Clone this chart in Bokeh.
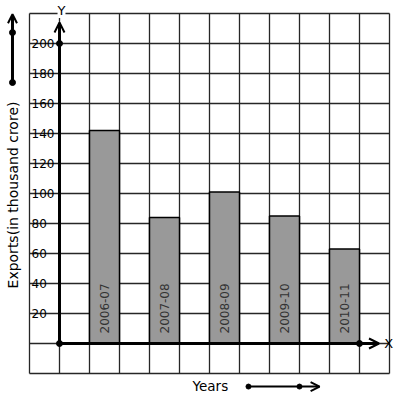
import numpy as np
from bokeh.plotting import figure
from bokeh.models import Range1d, Arrow, OpenHead, Label, ColumnDataSource
from bokeh.core.properties import value
from bokeh.embed import file_html
from bokeh.resources import INLINE

# ---- data ----
years = ["2006-07", "2007-08", "2008-09", "2009-10", "2010-11"]
exports = [142, 84, 101, 85, 63]
y_ticks = [20, 40, 60, 80, 100, 120, 140, 160, 180, 200]
y_tick_labels = ["20", "40", "60", "80", "100", "120", "140", "160", "180", "200"]
x_title = "Years"
y_title = "Exports(in thousand crore)"

FONT = value("DejaVu Sans")

p = figure(width=397, height=399, x_range=Range1d(-1.96667, 11.26667), y_range=Range1d(-37.333, 228.667),
           output_backend="svg", toolbar_location=None, min_border=0,
           x_axis_location=None, y_axis_location=None)
p.grid.visible = False
p.outline_line_color = None
p.background_fill_color = "white"
p.border_fill_color = "white"

# grid of squares: 1 column unit = 20 value units
gx = np.arange(-1, 12)
gy = np.arange(-20, 221, 20)
p.segment(x0=gx, y0=gy[0], x1=gx, y1=gy[-1], line_color="#262626", line_width=1.3)
p.segment(x0=gx[0], y0=gy, x1=gx[-1], y1=gy, line_color="#262626", line_width=1.3)

# bars
bx = [1.5 + 2 * i for i in range(len(years))]
src = ColumnDataSource(dict(x=bx, top=exports, label=years))
p.vbar(x="x", top="top", bottom=0, width=1, source=src, fill_color="#999999",
       line_color="black", line_width=1.5)
p.text(x="x", y=0, text="label", source=src, angle=np.pi / 2, y_offset=-10,
       text_align="left", text_baseline="middle", text_font=FONT,
       text_font_size="12px", text_color="#333333")

# y tick labels
p.text(x=-1, y=y_ticks, text=y_tick_labels, x_offset=2, text_align="left",
       text_baseline="middle", text_font=FONT, text_font_size="12px", text_color="black")

# axes
p.add_layout(Arrow(end=OpenHead(size=10, line_width=2, line_color="black"),
                   x_start=0, y_start=0, x_end=0, y_end=214, line_width=3, line_color="black"))
p.add_layout(Arrow(end=OpenHead(size=10, line_width=2, line_color="black"),
                   x_start=0, y_start=0, x_end=10.65, y_end=0, line_width=3, line_color="black"))
p.scatter(x=[0, 0, 10], y=[0, 200, 0], size=6, color="black")

p.add_layout(Label(x=0.067, y=222, text="Y", text_align="center", text_baseline="middle",
                   text_font="DejaVu Sans", text_font_size="13px", text_color="black",
                   background_fill_color="white"))
p.add_layout(Label(x=10.97, y=0, text="X", text_align="center", text_baseline="middle",
                   text_font="DejaVu Sans", text_font_size="13px", text_color="black"))

# axis titles
p.add_layout(Label(x=-1.55, y=99, text=y_title, angle=np.pi / 2, text_align="center",
                   text_baseline="middle", text_font="DejaVu Sans", text_font_size="14px",
                   text_color="black"))
p.add_layout(Label(x=5.03, y=-28.5, text=x_title, text_align="center",
                   text_baseline="middle", text_font="DejaVu Sans", text_font_size="13.5px",
                   text_color="black"))

# decorative arrows
p.add_layout(Arrow(end=OpenHead(size=9, line_width=2, line_color="black"),
                   x_start=-1.567, y_start=174, x_end=-1.567, y_end=219.5, line_width=3,
                   line_color="black"))
p.scatter(x=[-1.567, -1.567], y=[174, 207.3], size=6, color="black")
p.add_layout(Arrow(end=OpenHead(size=9, line_width=2, line_color="black"),
                   x_start=6.3, y_start=-28.7, x_end=8.67, y_end=-28.7, line_width=2,
                   line_color="black"))
p.scatter(x=[6.3, 8.0], y=[-28.7, -28.7], size=5, color="black")

open("out.html", "w").write(file_html(p, INLINE))
